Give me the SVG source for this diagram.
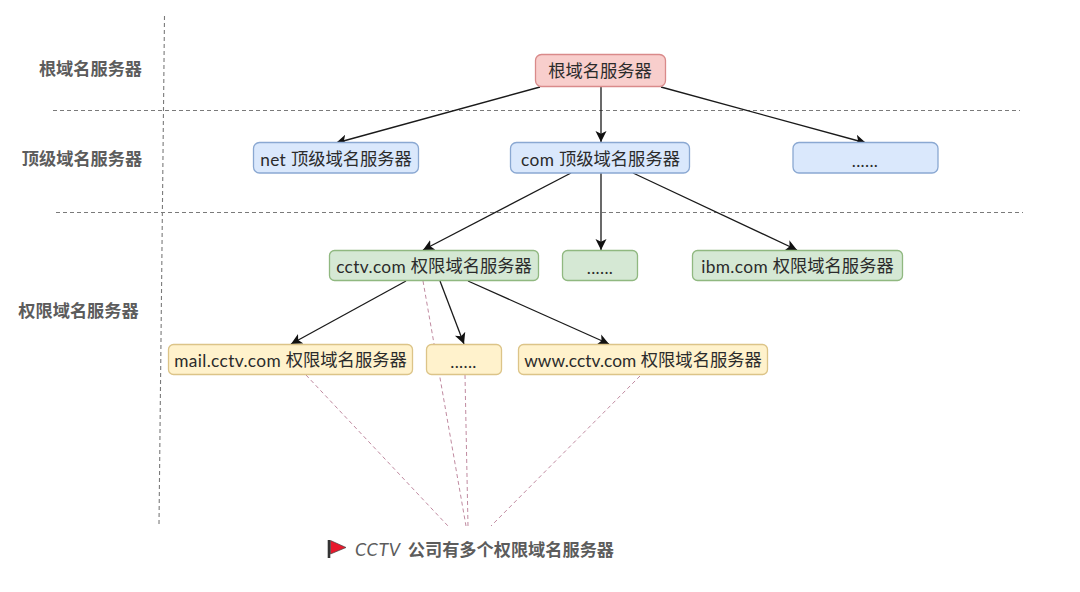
<svg xmlns="http://www.w3.org/2000/svg" width="1080" height="592" viewBox="0 0 1080 592">
<defs>
<marker id="arr" markerUnits="userSpaceOnUse" markerWidth="13" markerHeight="13" refX="11" refY="6" orient="auto"><path d="M0,0.500 L11,6 L0,11.500 L2.800,6 Z" fill="#111"/></marker>
</defs>
<style>
text{font-family:"Lato","Noto Sans CJK SC",sans-serif;text-anchor:middle;dominant-baseline:central}
.n{font-size:17.300px;fill:#2b2b2b}
.l{letter-spacing:.35px}
.w{letter-spacing:.05px}
.h{font-size:17.200px;font-weight:700;fill:#5c5c5c}
.b{stroke-width:1.300}
.red{fill:#f8cecc;stroke:#d98a8a}
.blue{fill:#dae8fc;stroke:#8aa8d2}
.green{fill:#d5e8d4;stroke:#90b880}
.yellow{fill:#fff2cc;stroke:#dcc488}
.c{fill:none;stroke:#1a1a1a;stroke-width:1.300;marker-end:url(#arr)}
.g{fill:none;stroke:#7a7a7a;stroke-width:1.100;stroke-dasharray:4 3}
.p{fill:none;stroke:#c08aa0;stroke-width:1;stroke-dasharray:4 3}
</style>
<g id="guides">
<path class="g" d="M164.500 16L159 524"/>
<path class="g" d="M53 110.500H1020M56 212.500H1023"/>
</g>
<g id="connectors">
<path class="c" d="M540 87L336 143"/>
<path class="c" d="M601 87V142"/>
<path class="c" d="M661 87L866 143"/>
<path class="c" d="M571 173L423 250"/>
<path class="c" d="M601 173V250"/>
<path class="c" d="M633 173L797 250"/>
<path class="c" d="M406 281L291 344"/>
<path class="c" d="M440 281L464 344"/>
<path class="c" d="M468 281L609 344"/>
<path class="p" d="M423 281L466 526M465 375L468 526M306 375L448 526M640 376L491 526"/>
</g>
<g id="l1"><text class="h" x="90.500" y="68">根域名服务器</text></g>
<g id="l2"><text class="h" x="82" y="158.500">顶级域名服务器</text></g>
<g id="l3"><text class="h" x="78.500" y="310">权限域名服务器</text></g>
<g id="root"><rect class="b red" x="535.500" y="54.500" width="130" height="32" rx="6"/><text class="n" x="600" y="70.500">根域名服务器</text></g>
<g id="net"><rect class="b blue" x="253.500" y="142.500" width="165" height="30.500" rx="6"/><text class="n" x="336" y="158.500"><tspan class="l">net </tspan>顶级域名服务器</text></g>
<g id="com"><rect class="b blue" x="510.500" y="142.500" width="179" height="30.500" rx="6"/><text class="n" x="600.500" y="158.500"><tspan class="l">com </tspan>顶级域名服务器</text></g>
<g id="tld-more"><rect class="b blue" x="793" y="142.500" width="145" height="30.500" rx="6"/><text class="n" x="865" y="159.500"><tspan class="l">......</tspan></text></g>
<g id="cctv"><rect class="b green" x="329.500" y="250.500" width="209" height="30" rx="5"/><text class="n" x="434" y="265.500"><tspan class="l">cctv.com </tspan>权限域名服务器</text></g>
<g id="auth-more"><rect class="b green" x="562.500" y="250.500" width="75" height="30" rx="5"/><text class="n" x="600" y="266.500"><tspan class="l">......</tspan></text></g>
<g id="ibm"><rect class="b green" x="692.500" y="250.500" width="210" height="30" rx="5"/><text class="n" x="797.500" y="265.500"><tspan class="l">ibm.com </tspan>权限域名服务器</text></g>
<g id="mail"><rect class="b yellow" x="168.500" y="344.500" width="244" height="30" rx="5"/><text class="n" x="290.500" y="359.500"><tspan class="l">mail.cctv.com </tspan>权限域名服务器</text></g>
<g id="sub-more"><rect class="b yellow" x="426.500" y="344.500" width="75" height="30" rx="5"/><text class="n" x="463.500" y="360.500"><tspan class="l">......</tspan></text></g>
<g id="www"><rect class="b yellow" x="518.500" y="344.500" width="249" height="30" rx="5"/><text class="n" x="643" y="359.500"><tspan class="w">www.cctv.com </tspan>权限域名服务器</text></g>
<g id="note">
<path d="M329 540V558" stroke="#333" stroke-width="2.600" fill="none"/>
<path d="M330.500 540.500L346 547.500L330.500 554Z" fill="#e8192c" stroke="#444" stroke-width=".7"/>
<text class="h" x="355" y="549" style="text-anchor:start"><tspan font-style="italic" font-weight="400" font-size="18" letter-spacing=".6">CCTV</tspan><tspan dx="7">公司有多个权限域名服务器</tspan></text>
</g>
</svg>
